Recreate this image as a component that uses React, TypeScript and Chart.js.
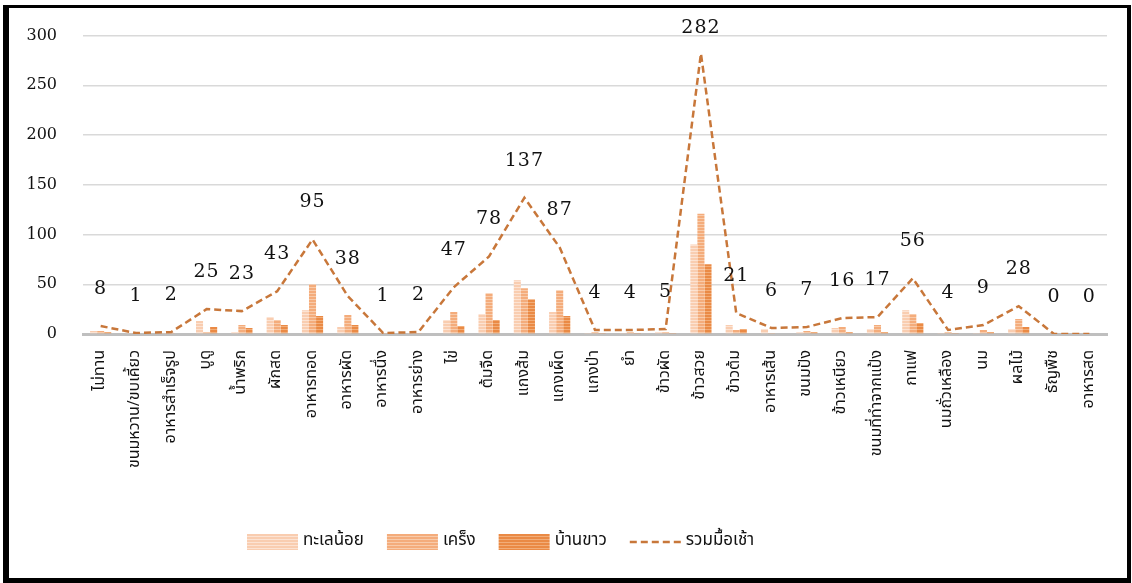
import React, { useEffect, useRef } from "react";
import { Chart, registerables } from "chart.js";

Chart.register(...registerables);

const categories = [
  "ไม่ทาน", "ขนมหวาน/ขบเคี้ยว", "อาหารสำเร็จรูป", "บูดู", "น้ำพริก", "ผักสด",
  "อาหารทอด", "อาหารผัด", "อาหารนึ่ง", "อาหารย่าง", "ไข่", "ต้มจืด", "แกงส้ม",
  "แกงเผ็ด", "แกงป่า", "ยำ", "ข้าวผัด", "ข้าวสวย", "ข้าวต้ม", "อาหารเส้น",
  "ขนมปัง", "ข้าวเหนียว", "ขนมที่ทำจากแป้ง", "กาแฟ", "นมถั่วเหลือง", "นม",
  "ผลไม้", "ธัญพืช", "อาหารสด",
];

const seriesNames = ["ทะเลน้อย", "เคร็ง", "บ้านขาว", "รวมมื้อเช้า"];

const thaleNoi = [3, 1, 1, 13, 2, 17, 24, 7, 0, 1, 14, 20, 54, 22, 1, 1, 2, 90, 9, 5, 2, 6, 5, 24, 1, 1, 5, 0, 0];
const khreng = [3, 0, 1, 2, 9, 14, 50, 19, 1, 1, 22, 41, 46, 44, 2, 2, 2, 121, 4, 1, 3, 7, 9, 20, 2, 4, 15, 0, 0];
const banKhao = [2, 0, 0, 7, 6, 9, 18, 9, 0, 0, 8, 14, 35, 18, 1, 1, 1, 70, 5, 0, 2, 2, 2, 11, 1, 2, 7, 0, 0];
const totals = [8, 1, 2, 25, 23, 43, 95, 38, 1, 2, 47, 78, 137, 87, 4, 4, 5, 282, 21, 6, 7, 16, 17, 56, 4, 9, 28, 0, 0];

const yMax = 300;
const yStep = 50;

const W = 1132;
const H = 583;
const THAI_FONT = "'Noto Sans Thai', 'Noto Sans Thai UI', 'Garuda', 'Loma', 'Noto Sans', sans-serif";
const NUM_FONT = "'DejaVu Serif', 'Liberation Serif', serif";

const barColors = [
  { base: "#F9CDB0", line: "#FCE3D3" },
  { base: "#F4AC7B", line: "#F8CBAA" },
  { base: "#EA8A45", line: "#F2AD78" },
];
const lineColor = "#C8773A";

function makeStripe(base: string, line: string): CanvasPattern | string {
  const c = document.createElement("canvas");
  c.width = 4;
  c.height = 3;
  const ctx = c.getContext("2d");
  if (!ctx) return base;
  ctx.fillStyle = base;
  ctx.fillRect(0, 0, 4, 3);
  ctx.fillStyle = line;
  ctx.fillRect(0, 2, 4, 1);
  const p = ctx.createPattern(c, "repeat");
  return p || base;
}

export default function App() {
  const ref = useRef<HTMLCanvasElement | null>(null);

  useEffect(() => {
    const canvas = ref.current;
    if (!canvas) return;
    const patterns = barColors.map((c) => makeStripe(c.base, c.line));

    const labelPlugin = {
      id: "totalLabels",
      afterDatasetsDraw(chart: any) {
        const ctx = chart.ctx;
        const meta = chart.getDatasetMeta(0);
        ctx.save();
        ctx.font = `19px ${NUM_FONT}`;
        ctx.fillStyle = "#111";
        ctx.textAlign = "center";
        ctx.textBaseline = "middle";
        try { (ctx as any).letterSpacing = "1px"; } catch (e) {}
        meta.data.forEach((pt: any, i: number) => {
          const y = Math.max(pt.y - 37, 28);
          ctx.fillText(String(totals[i]), pt.x, y);
        });
        ctx.restore();
      },
    };

    const legendPlugin = {
      id: "customLegend",
      afterDraw(chart: any) {
        const ctx = chart.ctx;
        ctx.save();
        ctx.font = `17px ${THAI_FONT}`;
        ctx.textBaseline = "middle";
        ctx.textAlign = "left";
        const boxW = 51;
        const boxH = 16;
        const gapText = 5;
        const gapItem = 23;
        const widths = seriesNames.map((n) => boxW + gapText + ctx.measureText(n).width);
        let x = 247;
        const cy = 542;
        seriesNames.forEach((name, i) => {
          if (i < 3) {
            ctx.fillStyle = patterns[i] as any;
            ctx.fillRect(x, cy - boxH / 2, boxW, boxH);
          } else {
            ctx.strokeStyle = lineColor;
            ctx.lineWidth = 2.5;
            ctx.setLineDash([7, 4]);
            ctx.beginPath();
            ctx.moveTo(x, cy);
            ctx.lineTo(x + boxW, cy);
            ctx.stroke();
            ctx.setLineDash([]);
          }
          ctx.fillStyle = "#111";
          ctx.fillText(name, x + boxW + gapText, cy);
          x += widths[i] + gapItem;
        });
        ctx.restore();
      },
    };

    const chart = new Chart(canvas, {
      type: "bar",
      data: {
        labels: categories,
        datasets: [
          {
            type: "line",
            label: seriesNames[3],
            data: totals,
            borderColor: lineColor,
            backgroundColor: lineColor,
            borderWidth: 2.5,
            borderDash: [7, 4],
            pointRadius: 0,
            tension: 0,
            fill: false,
            order: 0,
          } as any,
          {
            label: seriesNames[0],
            data: thaleNoi,
            backgroundColor: patterns[0] as any,
            order: 1,
          },
          {
            label: seriesNames[1],
            data: khreng,
            backgroundColor: patterns[1] as any,
            order: 1,
          },
          {
            label: seriesNames[2],
            data: banKhao,
            backgroundColor: patterns[2] as any,
            order: 1,
          },
        ],
      },
      options: {
        responsive: false,
        animation: false,
        devicePixelRatio: 1,
        datasets: {
          bar: { barPercentage: 1, categoryPercentage: 0.6 },
        },
        layout: { padding: { left: 0, right: 25, top: 35, bottom: 49 } },
        plugins: {
          legend: { display: false },
          tooltip: { enabled: false },
        },
        scales: {
          x: {
            grid: { display: false },
            border: { display: true, color: "#BFBFBF", width: 3 },
            ticks: {
              minRotation: 90,
              maxRotation: 90,
              autoSkip: false,
              padding: 8,
              color: "#111",
              font: { family: THAI_FONT, size: 16 },
            },
            afterFit(scale: any) {
              scale.height = 200;
            },
          },
          y: {
            min: 0,
            max: yMax,
            ticks: {
              stepSize: yStep,
              padding: 26,
              color: "#111",
              font: { family: NUM_FONT, size: 16 },
            },
            grid: {
              drawTicks: false,
              lineWidth: 1.5,
              color: (c: any) => (c.tick && c.tick.value === 0 ? "rgba(0,0,0,0)" : "#D9D9D9"),
            },
            border: { display: false },
            afterFit(scale: any) {
              scale.width = 83;
            },
          },
        },
      },
      plugins: [labelPlugin, legendPlugin],
    });

    return () => chart.destroy();
  }, []);

  return (
    <div style={{ position: "absolute", left: 0, top: 0, width: W, height: H, background: "#fff" }}>
      <div
        style={{
          position: "absolute",
          left: 3,
          top: 5,
          width: 1128,
          height: 578,
          boxSizing: "border-box",
          borderStyle: "solid",
          borderColor: "#000",
          borderWidth: "3px 4px 5px 6px",
        }}
      />
      <canvas
        ref={ref}
        width={W}
        height={H}
        style={{ position: "absolute", left: 0, top: 0, width: W, height: H }}
      />
    </div>
  );
}
